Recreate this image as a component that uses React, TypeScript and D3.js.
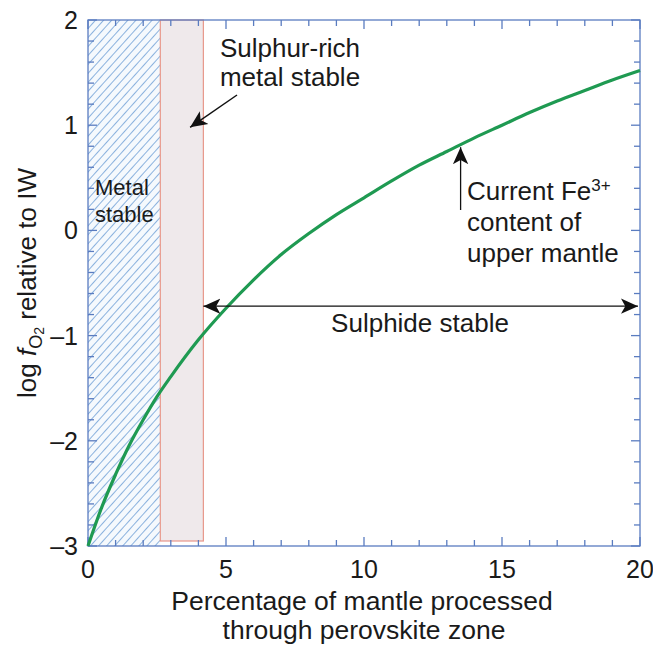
import React, { useEffect, useRef } from 'react';
import * as d3 from 'd3';

// percentage of mantle processed vs log fO2 (relative to IW)
const percentProcessed = [0, 0.5, 1, 1.5, 2, 2.5, 3, 4, 5, 6, 7, 8, 9, 10, 11, 12, 13, 14, 15, 16, 17, 18, 19, 20];
const logFO2 = [-3, -2.63, -2.32, -2.04, -1.8, -1.58, -1.39, -1.04, -0.74, -0.47, -0.23, -0.03, 0.15, 0.31, 0.47, 0.62, 0.75, 0.88, 1.0, 1.12, 1.23, 1.33, 1.43, 1.52];

const xTicks = [0, 5, 10, 15, 20];
const yTicks = [-3, -2, -1, 0, 1, 2];
const yTickLabels = ['–3', '–2', '–1', '0', '1', '2'];

const metalStable = [0, 2.62];
const sulphurRich = [2.62, 4.18];
const sulphideArrow = [4.18, 20];
const currentFe3 = { x: 13.5, y: 0.81 };

export default function App() {
  const ref = useRef<SVGSVGElement>(null);

  useEffect(() => {
    const svg = d3.select(ref.current);
    svg.selectAll('*').remove();

    const left = 88, right = 640, top = 20, bottom = 546;
    const x = d3.scaleLinear().domain([0, 20]).range([left, right]);
    const y = d3.scaleLinear().domain([-3, 2]).range([bottom, top]);
    const axisColor = '#5a7cc0';
    const font = 'Liberation Sans, Arial, sans-serif';
    const ink = '#1a1a1a';

    const defs = svg.append('defs');
    const pat = defs.append('pattern')
      .attr('id', 'hatch')
      .attr('patternUnits', 'userSpaceOnUse')
      .attr('width', 6).attr('height', 6)
      .attr('patternTransform', 'rotate(42)');
    pat.append('rect').attr('width', 6).attr('height', 6).attr('fill', '#f5f9fd');
    pat.append('line').attr('x1', 0.5).attr('y1', 0).attr('x2', 0.5).attr('y2', 6)
      .attr('stroke', '#8bb2de').attr('stroke-width', 1);

    const marker = (id: string, orient: string) => {
      defs.append('marker')
        .attr('id', id)
        .attr('viewBox', '0 0 10 10')
        .attr('refX', 10).attr('refY', 5)
        .attr('markerWidth', 17).attr('markerHeight', 17)
        .attr('markerUnits', 'userSpaceOnUse')
        .attr('orient', orient)
        .append('path')
        .attr('d', 'M0,0.5 L10,5 L0,9.5 L2.5,5 Z')
        .attr('fill', '#111');
    };
    marker('head', 'auto');
    marker('tail', 'auto-start-reverse');

    // regions
    svg.append('rect')
      .attr('x', x(metalStable[0])).attr('y', top)
      .attr('width', x(metalStable[1]) - x(metalStable[0]))
      .attr('height', bottom - top)
      .attr('fill', 'url(#hatch)');

    svg.append('rect')
      .attr('x', x(sulphurRich[0])).attr('y', top)
      .attr('width', x(sulphurRich[1]) - x(sulphurRich[0]))
      .attr('height', bottom - top - 5)
      .attr('fill', '#efe9eb')
      .attr('stroke', '#e8978a')
      .attr('stroke-width', 1.2);

    // axes frame with inward ticks on all four sides
    const g = svg.append('g').attr('stroke', axisColor).attr('stroke-width', 1.3);
    g.append('rect').attr('x', left).attr('y', top)
      .attr('width', right - left).attr('height', bottom - top).attr('fill', 'none');

    d3.range(0, 21, 1).forEach(v => {
      const len = xTicks.includes(v) ? 9 : 6;
      g.append('line').attr('x1', x(v)).attr('x2', x(v)).attr('y1', bottom).attr('y2', bottom - len);
      g.append('line').attr('x1', x(v)).attr('x2', x(v)).attr('y1', top).attr('y2', top + len);
    });
    d3.range(-3, 2.01, 0.2).forEach(v => {
      const major = Math.abs(v - Math.round(v)) < 1e-6;
      const len = major ? 9 : 6;
      g.append('line').attr('x1', left).attr('x2', left + len).attr('y1', y(v)).attr('y2', y(v));
      g.append('line').attr('x1', right).attr('x2', right - len).attr('y1', y(v)).attr('y2', y(v));
    });

    // tick labels
    svg.selectAll('.xlab').data(xTicks).join('text')
      .attr('class', 'xlab')
      .attr('x', d => x(d)).attr('y', 578)
      .attr('text-anchor', 'middle')
      .attr('font-family', font).attr('font-size', 25)
      .attr('fill', ink)
      .text(d => d);

    svg.selectAll('.ylab').data(yTicks).join('text')
      .attr('class', 'ylab')
      .attr('x', 78).attr('y', d => y(d) + 9)
      .attr('text-anchor', 'end')
      .attr('font-family', font).attr('font-size', 25)
      .attr('fill', ink)
      .text((d, i) => yTickLabels[i]);

    // axis titles
    const xt = svg.append('text')
      .attr('text-anchor', 'middle')
      .attr('font-family', font).attr('font-size', 26.5)
      .attr('fill', ink);
    xt.append('tspan').attr('x', 362).attr('y', 610).text('Percentage of mantle processed');
    xt.append('tspan').attr('x', 364).attr('y', 639).text('through perovskite zone');

    const yt = svg.append('text')
      .attr('transform', 'translate(36,283) rotate(-90)')
      .attr('text-anchor', 'middle')
      .attr('font-family', font).attr('font-size', 26)
      .attr('fill', ink);
    yt.append('tspan').text('log ');
    yt.append('tspan').attr('font-style', 'italic').text('f');
    yt.append('tspan').attr('font-size', 18).attr('dy', 6).text('O');
    yt.append('tspan').attr('font-size', 14).attr('dy', 2).text('2');
    yt.append('tspan').attr('dy', -8).text(' relative to IW');

    // curve
    const line = d3.line<number>()
      .x((d, i) => x(percentProcessed[i]))
      .y(d => y(d))
      .curve(d3.curveMonotoneX);
    svg.append('path')
      .attr('d', line(logFO2))
      .attr('fill', 'none')
      .attr('stroke', '#1f9a52')
      .attr('stroke-width', 3.2);

    // annotations
    const txt = (tx: number, ty: number, s: string, size: number, anchor = 'start') =>
      svg.append('text').attr('x', tx).attr('y', ty)
        .attr('text-anchor', anchor)
        .attr('font-family', font).attr('font-size', size)
        .attr('fill', ink).text(s);

    txt(290, 57, 'Sulphur-rich', 26, 'middle');
    txt(290, 86, 'metal stable', 26, 'middle');
    svg.append('line')
      .attr('x1', 237).attr('y1', 95)
      .attr('x2', x(3.7)).attr('y2', y(0.98))
      .attr('stroke', '#111').attr('stroke-width', 1.5)
      .attr('marker-end', 'url(#head)');

    txt(95, 195, 'Metal', 22);
    txt(95, 222, 'stable', 22);

    const sy = y(-0.72);
    svg.append('line')
      .attr('x1', x(sulphideArrow[0])).attr('y1', sy)
      .attr('x2', x(sulphideArrow[1]) - 2).attr('y2', sy)
      .attr('stroke', '#111').attr('stroke-width', 1.3)
      .attr('marker-start', 'url(#tail)')
      .attr('marker-end', 'url(#head)');
    txt(420, 332, 'Sulphide stable', 26, 'middle');

    svg.append('line')
      .attr('x1', x(currentFe3.x)).attr('y1', 210)
      .attr('x2', x(currentFe3.x)).attr('y2', y(currentFe3.y) + 2)
      .attr('stroke', '#111').attr('stroke-width', 1.3)
      .attr('marker-end', 'url(#head)');

    const fe = svg.append('text').attr('x', 467).attr('y', 200)
      .attr('font-family', font).attr('font-size', 26).attr('fill', ink);
    fe.append('tspan').text('Current Fe');
    fe.append('tspan').attr('font-size', 17).attr('dy', -9).text('3+');
    txt(467, 231, 'content of', 26);
    txt(467, 262, 'upper mantle', 26);
  }, []);

  return (
    <svg ref={ref} width={653} height={646}
      style={{ position: 'absolute', left: 0, top: 0, background: '#fff' }} />
  );
}
